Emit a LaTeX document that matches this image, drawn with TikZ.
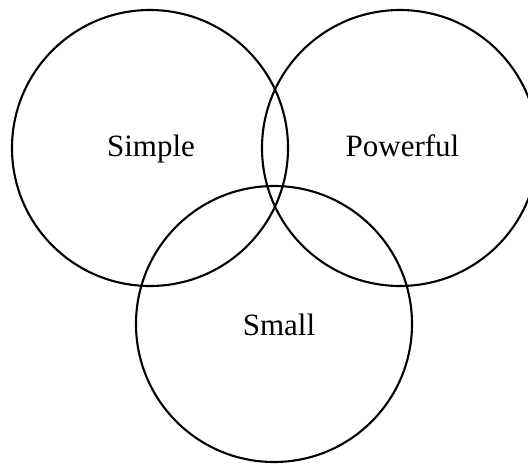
\documentclass[tikz,border=0pt]{standalone}
\usepackage{fontspec}
\setmainfont{Liberation Serif}
\begin{document}
\begin{tikzpicture}[x=1pt,y=-1pt,
  venn/.style={circle,draw=black,line width=2.1pt,minimum size=276pt,inner sep=0pt},
  lbl/.style={font=\fontsize{31}{36}\selectfont,anchor=base,inner sep=0pt}]
\useasboundingbox (0,0) rectangle (528,464);
\clip (0,0) rectangle (528,464);
\node[venn] (simple) at (150,148) {};
\node[venn] (powerful) at (400,148) {};
\node[venn] (small) at (274,324) {};
\node[lbl] (tsimple) at (151,156) {Simple};
\node[lbl] (tpowerful) at (402.5,156) {Powerful};
\node[lbl] (tsmall) at (279,335) {Small};
\end{tikzpicture}
\end{document}
